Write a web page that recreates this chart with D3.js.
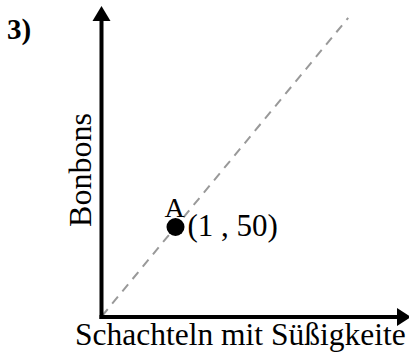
<!DOCTYPE html>
<html>
<head>
<meta charset="utf-8">
<script src="https://cdn.jsdelivr.net/npm/d3@7"></script>
<style>
	html, body { margin: 0; padding: 0; background: #fff; }
	svg { display: block; font-family: 'Liberation Serif', 'Times New Roman', serif; }
</style>
</head>
<body>
<svg id="chart" width="409" height="354"></svg>
<script>
// values
const pointLabels = ['A'];
const pointX = [1];
const pointY = [50];
const lineX = [0, 3.35];
const lineY = [0, 167.5];
const xTitle = 'Schachteln mit Süßigkeite';
const yTitle = 'Bonbons';
const taskLabel = '3)';

const svg = d3.select('#chart');

const x = d3.scaleLinear().domain([0, 4]).range([102, 396]);
const y = d3.scaleLinear().domain([0, 200]).range([316, -40]);

// dashed proportional line
svg.append('path')
	.datum(lineX.map((d, i) => [d, lineY[i]]))
	.attr('d', d3.line().x(d => x(d[0])).y(d => y(d[1])))
	.attr('fill', 'none')
	.attr('stroke', '#999')
	.attr('stroke-width', 2)
	.attr('stroke-dasharray', '9,7');

// axes with arrow heads
const ax = x(0) - 0.5;
const ay = y(0) + 1;
svg.append('line')
	.attr('x1', ax).attr('y1', ay + 2)
	.attr('x2', ax).attr('y2', 20)
	.attr('stroke', '#000').attr('stroke-width', 4);
svg.append('path')
	.attr('d', `M${ax},6 L${ax - 9},21 L${ax + 9},21 Z`)
	.attr('fill', '#000');
svg.append('line')
	.attr('x1', ax - 2).attr('y1', ay)
	.attr('x2', 399).attr('y2', ay)
	.attr('stroke', '#000').attr('stroke-width', 4);
svg.append('path')
	.attr('d', `M411,${ay} L397,${ay - 9} L397,${ay + 9} Z`)
	.attr('fill', '#000');

// point A
const pts = svg.selectAll('g.pt')
	.data(pointLabels.map((d, i) => ({ label: d, x: pointX[i], y: pointY[i] })))
	.enter()
	.append('g')
	.attr('class', 'pt')
	.attr('transform', d => `translate(${x(d.x)}, ${y(d.y)})`);

pts.append('circle')
	.attr('r', 9)
	.attr('fill', '#000');

pts.append('text')
	.text(d => d.label)
	.attr('x', -11)
	.attr('y', -10)
	.attr('font-size', 28);

pts.append('text')
	.text(d => `(${d.x} , ${d.y})`)
	.attr('x', 12)
	.attr('y', 9)
	.attr('font-size', 31);

// titles
svg.append('text')
	.text(xTitle)
	.attr('x', 75)
	.attr('y', 345)
	.attr('font-size', 31.5);

svg.append('text')
	.text(yTitle)
	.attr('text-anchor', 'middle')
	.attr('transform', 'translate(91, 170) rotate(-90)')
	.attr('font-size', 32);

svg.append('text')
	.text(taskLabel)
	.attr('x', 7)
	.attr('y', 39)
	.attr('font-size', 29)
	.attr('font-weight', 'bold');
</script>
</body>
</html>
